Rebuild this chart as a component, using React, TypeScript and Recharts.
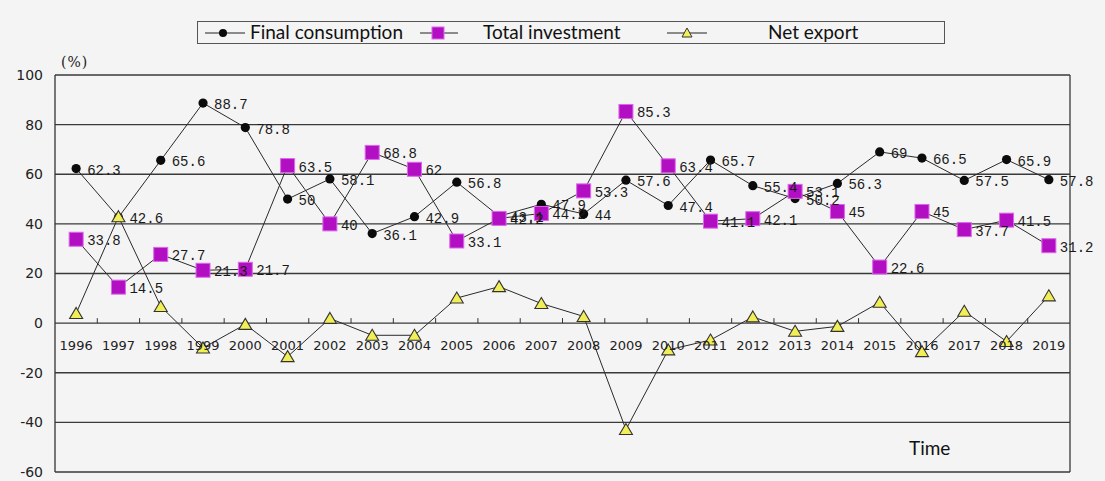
import { LineChart, Line, XAxis, YAxis, CartesianGrid, Legend, LabelList } from "recharts"

const years = [
  "1996", "1997", "1998", "1999", "2000", "2001", "2002", "2003", "2004", "2005", "2006", "2007",
  "2008", "2009", "2010", "2011", "2012", "2013", "2014", "2015", "2016", "2017", "2018", "2019"
]
const consumption = [
  62.3, 42.6, 65.6, 88.7, 78.8, 50, 58.1, 36.1, 42.9, 56.8, 43.1, 47.9,
  44, 57.6, 47.4, 65.7, 55.4, 50.2, 56.3, 69, 66.5, 57.5, 65.9, 57.8
]
const investment = [
  33.8, 14.5, 27.7, 21.3, 21.7, 63.5, 40, 68.8, 62, 33.1, 42.2, 44.2,
  53.3, 85.3, 63.4, 41.1, 42.1, 53.1, 45, 22.6, 45, 37.7, 41.5, 31.2
]
const netExport = [
  3.9, 42.9, 6.7, -10, -0.5, -13.5, 1.9, -4.9, -4.9, 10.1, 14.7, 7.9,
  2.7, -42.9, -10.8, -6.8, 2.5, -3.3, -1.3, 8.4, -11.5, 4.8, -7.4, 11
]
const yTicks = [-60, -40, -20, 0, 20, 40, 60, 80, 100]

const W = 1105
const H = 481
const M = { top: 75, right: 35, bottom: 0, left: 0 }
const X_AXIS_H = 9
const Y_AXIS_W = 55
const Y_MIN = -60
const Y_MAX = 100
const plotH = H - M.top - M.bottom - X_AXIS_H
const zeroY = M.top + plotH * (Y_MAX / (Y_MAX - Y_MIN))
const band = (W - M.left - M.right - Y_AXIS_W) / years.length

const data = years.map((year, i) => ({
  year,
  consumption: consumption[i],
  investment: investment[i],
  netExport: netExport[i]
}))

const BG = "#f4f4f4"

// year labels sit under the zero line, not at the bottom of the plot
const YearTick = (props: any) => {
  const { x, payload, index } = props
  return (
    <g>
      <text
        x={x}
        y={zeroY + 27}
        textAnchor="middle"
        style={{ fontFamily: "DejaVu Sans", fontSize: 13, fill: "#222" }}
      >
        {payload.value}
      </text>
      {index < years.length - 1 && (
        <line x1={x + band / 2} x2={x + band / 2} y1={zeroY} y2={zeroY - 5} stroke="#333" strokeWidth={1} />
      )}
    </g>
  )
}

const CircleDot = (props: any) => {
  const { cx, cy } = props
  if (cx == null || cy == null) return null
  return <circle cx={cx} cy={cy} r={4.6} fill="#0b0b0b" />
}

const SquareDot = (props: any) => {
  const { cx, cy } = props
  if (cx == null || cy == null) return null
  return <rect x={cx - 7} y={cy - 7} width={14} height={14} fill="#b30fc2" stroke="#dc66ec" strokeWidth={1} />
}

const TriangleDot = (props: any) => {
  const { cx, cy } = props
  if (cx == null || cy == null) return null
  return (
    <path
      d={`M${cx},${cy - 6} L${cx + 6.5},${cy + 5} L${cx - 6.5},${cy + 5} Z`}
      fill="#f1ee58"
      stroke="#333"
      strokeWidth={1.1}
    />
  )
}

const ValueLabel = (props: any) => {
  const { x, y, value } = props
  if (value === undefined || value === null) return null
  return (
    <text
      x={x + 11}
      y={y + 6}
      style={{ fontFamily: "Liberation Mono", fontSize: 14, fill: "#1a1a1a" }}
    >
      {value}
    </text>
  )
}

const legendText = { fontFamily: "Lato", fontSize: 19, fill: "#111" }

const LegendBox = () => (
  <div
    style={{
      width: 746,
      height: 21,
      border: "1.5px solid #555",
      background: BG,
      boxSizing: "content-box"
    }}
  >
    <svg width={746} height={24} style={{ overflow: "visible", display: "block" }}>
      {/* final consumption */}
      <line x1={7} x2={47} y1={11} y2={11} stroke="#222" />
      <circle cx={25} cy={11} r={4} fill="#0b0b0b" />
      <text x={52} y={17} style={legendText}>Final consumption</text>

      {/* total investment */}
      <line x1={222} x2={260} y1={11} y2={11} stroke="#222" />
      <rect x={234} y={5} width={12} height={12} fill="#b30fc2" stroke="#dc66ec" />
      <text x={285} y={17} style={legendText}>Total investment</text>

      {/* net export */}
      <line x1={469} x2={509} y1={11} y2={11} stroke="#222" />
      <path d="M489,6 L494,15 L484,15 Z" fill="#f1ee58" stroke="#333" />
      <text x={570} y={17} style={legendText}>Net export</text>
    </svg>
  </div>
)

export default function App() {
  return (
    <div style={{ position: "absolute", left: 0, top: 0, width: W, height: H, background: BG }}>
      <LineChart width={W} height={H} data={data} margin={M}>
        <CartesianGrid
          stroke="#3a3a3a"
          strokeWidth={1.3}
          verticalCoordinatesGenerator={({ offset }: any) => [offset.left + offset.width]}
        />

        <XAxis
          dataKey="year"
          height={X_AXIS_H}
          interval={0}
          axisLine={false}
          tickLine={false}
          padding={{ left: band / 2, right: band / 2 }}
          tick={<YearTick />}
        />

        <YAxis
          type="number"
          domain={[Y_MIN, Y_MAX]}
          ticks={yTicks}
          width={Y_AXIS_W}
          axisLine={{ stroke: "#333", strokeWidth: 1.3 }}
          tickLine={false}
          tickSize={0}
          tickMargin={12}
          tick={{ fontFamily: "DejaVu Sans", fontSize: 14, fill: "#222" }}
        />

        <Legend
          layout="horizontal"
          verticalAlign="middle"
          align="center"
          wrapperStyle={{ left: 197, top: 21, width: 750, height: 24 }}
          content={() => <LegendBox />}
        />

        {/* FINAL CONSUMPTION */}
        <Line
          dataKey="consumption"
          name="Final consumption"
          stroke="#2a2a2a"
          strokeWidth={1}
          dot={<CircleDot />}
          activeDot={false}
          isAnimationActive={false}
        >
          <LabelList dataKey="consumption" content={<ValueLabel />} />
        </Line>

        {/* TOTAL INVESTMENT */}
        <Line
          dataKey="investment"
          name="Total investment"
          stroke="#2a2a2a"
          strokeWidth={1}
          dot={<SquareDot />}
          activeDot={false}
          isAnimationActive={false}
        >
          <LabelList dataKey="investment" content={<ValueLabel />} />
        </Line>

        {/* NET EXPORT */}
        <Line
          dataKey="netExport"
          name="Net export"
          stroke="#2a2a2a"
          strokeWidth={1}
          dot={<TriangleDot />}
          activeDot={false}
          isAnimationActive={false}
        />
      </LineChart>

      <div
        style={{
          position: "absolute",
          left: 61,
          top: 54,
          fontFamily: "DejaVu Serif",
          fontSize: 14,
          letterSpacing: 1,
          color: "#222"
        }}
      >
        (%)
      </div>

      <div
        style={{
          position: "absolute",
          left: 909,
          top: 436,
          fontFamily: "Lato",
          fontSize: 19,
          color: "#111"
        }}
      >
        Time
      </div>
    </div>
  )
}
